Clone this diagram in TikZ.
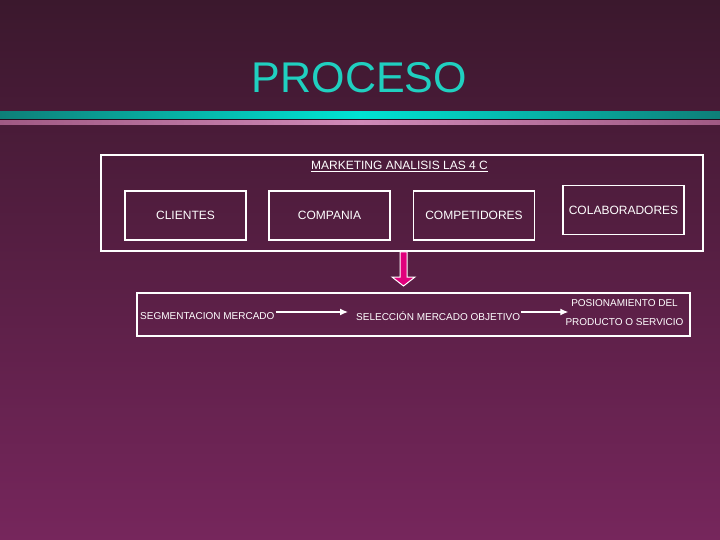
\documentclass[tikz,border=0pt]{standalone}
\usepackage{fontspec}
\setmainfont{Liberation Sans}
\usepackage{tikz}
\usetikzlibrary{arrows.meta}

\definecolor{fondoarriba}{HTML}{3B182D}
\definecolor{fondoabajo}{HTML}{76265C}
\definecolor{turquesa}{HTML}{20D0C0}
\definecolor{turquesaosc}{HTML}{0E7F78}
\definecolor{turquesaclr}{HTML}{00E4D4}
\definecolor{rosaosc}{HTML}{A05A84}
\definecolor{rosaclr}{HTML}{D08AB8}
\definecolor{magenta}{HTML}{E0007C}

\begin{document}
\begin{tikzpicture}[x=1bp,y=-1bp,
    cajastyle/.style={rectangle, draw=white, line width=1.5bp, minimum width=121bp, minimum height=49bp, text=white, font=\fontsize{12bp}{14bp}\selectfont},
    marcostyle/.style={rectangle, draw=white, line width=1.5bp, inner sep=0pt},
    textostyle/.style={text=white, inner sep=1bp, font=\fontsize{10bp}{19bp}\selectfont},
    flecha/.style={white, line width=1.2bp, -{Latex[length=8bp,width=7bp]}}]
    % fondo y barras
    \fill[top color=fondoarriba, bottom color=fondoabajo] (0,0) rectangle (720,540);
    \fill[left color=turquesaosc, right color=turquesaosc, middle color=turquesaclr] (0,112) rectangle (720,119);
    \fill[fondoarriba!60!black] (0,119) rectangle (720,121);
    \fill[left color=rosaosc, right color=rosaosc, middle color=rosaclr] (0,121) rectangle (720,125);
    \node (titulo) at (359.5,93)[anchor=base, text=turquesa, inner sep=0pt, font=\fontsize{43bp}{50bp}\selectfont]{PROCESO};
    % las 4 C
    \node (marco) at (402,203)[marcostyle, minimum width=602bp, minimum height=96bp]{};
    \node (mkt) at (399.5,169.5)[anchor=base, text=white, inner sep=0pt, font=\fontsize{12bp}{14bp}\selectfont]{\underline{MARKETING ANALISIS LAS 4 C}};
    \node (cli) at (185.5,215.5)[cajastyle]{CLIENTES};
    \node (com) at (329.5,215.5)[cajastyle]{COMPANIA};
    \node (cmp) at (474,215.5)[cajastyle]{COMPETIDORES};
    \node (col) at (623.5,210)[cajastyle]{COLABORADORES};
    % flecha rosa
    \filldraw[fill=magenta, draw=white, line width=1bp] (400,252)--(407,252)--(407,277)--(415,277)--(403.5,286)--(392,277)--(400,277)--cycle;
    % proceso
    \node (linea) at (413.5,314.5)[marcostyle, minimum width=553bp, minimum height=43bp]{};
    \node (seg) at (139,316)[textostyle, anchor=west]{SEGMENTACION MERCADO};
    \node (sel) at (355,316)[textostyle, anchor=west]{SELECCIÓN MERCADO OBJETIVO};
    \node (pos) at (624.5,312.5)[textostyle, align=center]{POSIONAMIENTO DEL\\PRODUCTO O SERVICIO};
    \draw[flecha, shorten >=7bp] ([yshift=4bp]seg.east) -- ([yshift=4bp]sel.west);
    \draw[flecha, shorten >=-4bp] ([yshift=4bp]sel.east) -- ([yshift=4bp]sel.east -| pos.west);
\end{tikzpicture}
\end{document}
